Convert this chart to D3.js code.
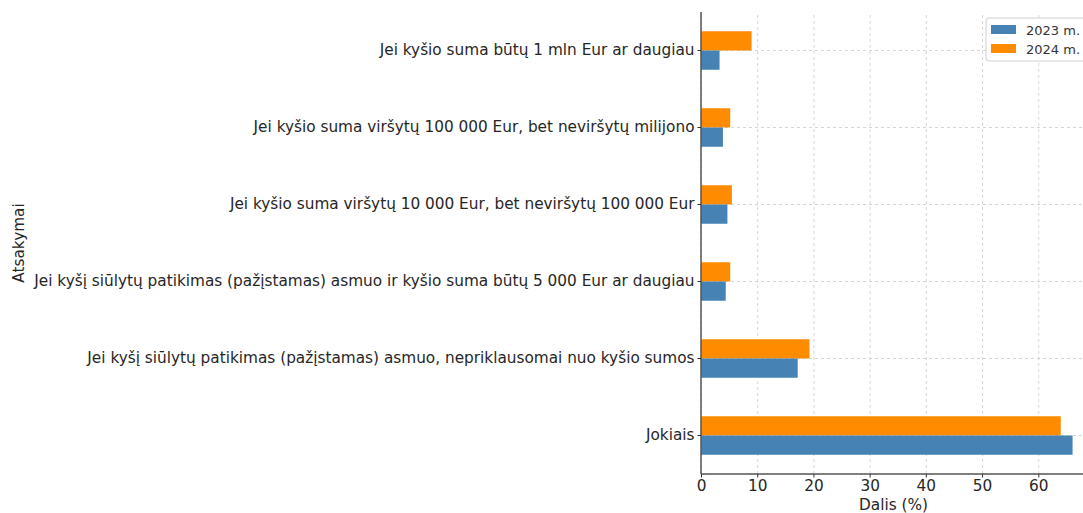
<!DOCTYPE html>
<html lang="en">
<head>
  <meta charset="utf-8">
  <title>Kyšio atsakymai</title>
  <style>
    body { margin: 0; padding: 0; background: #fff; font-family: 'DejaVu Sans', sans-serif; }
    .grid line { stroke: #cccccc; stroke-dasharray: 3,3; stroke-width: 0.8; }
    .grid .domain { display: none; }
  </style>
</head>
<body>
  <div id="chart"></div>
  <script src="https://d3js.org/d3.v7.min.js"></script>
  <script>
    // categories (top to bottom)
    var categories = [
      "Jei kyšio suma būtų 1 mln Eur ar daugiau",
      "Jei kyšio suma viršytų 100 000 Eur, bet neviršytų milijono",
      "Jei kyšio suma viršytų 10 000 Eur, bet neviršytų 100 000 Eur",
      "Jei kyšį siūlytų patikimas (pažįstamas) asmuo ir kyšio suma būtų 5 000 Eur ar daugiau",
      "Jei kyšį siūlytų patikimas (pažįstamas) asmuo, nepriklausomai nuo kyšio sumos",
      "Jokiais"
    ];
    var values2023 = [3.3, 3.9, 4.7, 4.4, 17.2, 66.1];
    var values2024 = [9.0, 5.2, 5.5, 5.2, 19.3, 64.0];
    var seriesNames = ["2023 m.", "2024 m."];
    var seriesColors = ["#4682b4", "#ff8c00"];
    var xTicks = [0, 10, 20, 30, 40, 50, 60];

    var W = 1083, H = 513;
    var pLeft = 701, pTop = 12, pBottom = 474, pRight = 1090;

    var svg = d3.select("#chart").append("svg")
      .attr("width", W).attr("height", H);

    var x = d3.scaleLinear().domain([0, 69.2]).range([pLeft, pRight]);
    var y = d3.scaleBand().domain(categories).range([pTop, pBottom]).padding(0);
    var barH = y.bandwidth() * 0.25;

    // grid lines
    svg.append("g").attr("class", "grid")
      .attr("transform", "translate(0," + pBottom + ")")
      .call(d3.axisBottom(x).tickValues(xTicks).tickSize(-(pBottom - pTop)).tickFormat(""));
    svg.append("g").attr("class", "grid")
      .attr("transform", "translate(" + pLeft + ",0)")
      .call(d3.axisLeft(y).tickSize(-(pRight - pLeft)).tickFormat(""));

    // bars
    var rows = categories.map(function (c, i) {
      return { cat: c, v: [values2023[i], values2024[i]] };
    });
    var g = svg.append("g");
    rows.forEach(function (r) {
      var cy = y(r.cat) + y.bandwidth() / 2;
      // 2024 above the tick, 2023 below
      g.append("rect")
        .attr("x", x(0)).attr("y", cy - barH)
        .attr("width", x(r.v[1]) - x(0)).attr("height", barH)
        .attr("fill", seriesColors[1]);
      g.append("rect")
        .attr("x", x(0)).attr("y", cy)
        .attr("width", x(r.v[0]) - x(0)).attr("height", barH)
        .attr("fill", seriesColors[0]);
    });

    // axes
    var xAxis = svg.append("g")
      .attr("transform", "translate(0," + pBottom + ")")
      .call(d3.axisBottom(x).tickValues(xTicks).tickSize(3.5).tickPadding(3));
    var yAxis = svg.append("g")
      .attr("transform", "translate(" + pLeft + ",0)")
      .call(d3.axisLeft(y).tickSize(3.5).tickPadding(3));
    [xAxis, yAxis].forEach(function (a) {
      a.select(".domain").attr("stroke", "#555").attr("stroke-width", 1.5);
      a.selectAll(".tick line").attr("stroke", "#333");
      a.selectAll(".tick text").attr("fill", "#262626")
        .style("font-family", "'DejaVu Sans', sans-serif").style("font-size", "15.3px");
    });
    xAxis.select(".domain").attr("d", "M" + pLeft + ",0H" + pRight);
    yAxis.select(".domain").attr("d", "M0," + pTop + "V" + pBottom);

    // axis labels
    svg.append("text")
      .attr("x", (pLeft + pRight) / 2 - 2).attr("y", 510)
      .attr("text-anchor", "middle")
      .attr("fill", "#262626").style("font-size", "15.3px")
      .text("Dalis (%)");
    svg.append("text")
      .attr("transform", "translate(24," + ((pTop + pBottom) / 2) + ") rotate(-90)")
      .attr("text-anchor", "middle")
      .attr("fill", "#262626").style("font-size", "15.3px")
      .text("Atsakymai");

    // legend
    var lg = svg.append("g").attr("transform", "translate(986,18)");
    lg.append("rect").attr("width", 105).attr("height", 43).attr("rx", 3)
      .attr("fill", "#fff").attr("fill-opacity", 0.8)
      .attr("stroke", "#d0d0d0");
    seriesNames.forEach(function (n, i) {
      lg.append("rect").attr("x", 5).attr("y", 7 + i * 19)
        .attr("width", 25).attr("height", 9).attr("fill", seriesColors[i]);
      lg.append("text").attr("x", 40).attr("y", 16.5 + i * 19)
        .attr("fill", "#333").style("font-size", "13px").text(n);
    });
  </script>
</body>
</html>
